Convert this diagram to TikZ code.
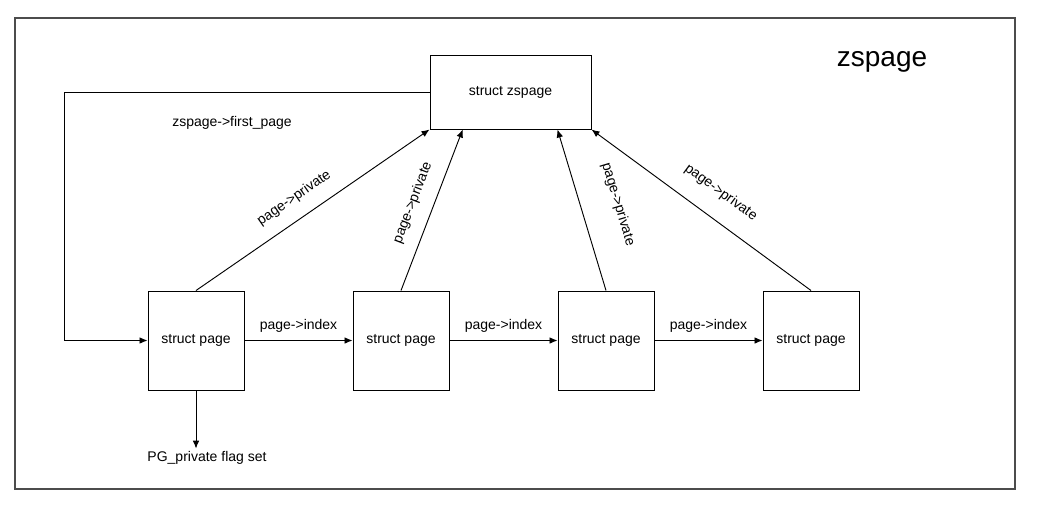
\documentclass[tikz,border=0pt]{standalone}
\usepackage{fontspec}
\setmainfont{Liberation Sans}
\usepackage{tikz}
\usetikzlibrary{arrows.meta,positioning,calc}

\begin{document}
\begin{tikzpicture}[x=0.75pt,y=-0.75pt,
    pagebox/.style={draw,line width=0.75pt,minimum width=72pt,minimum height=74.25pt,inner sep=0pt,font=\fontsize{10.5}{12}\selectfont},
    zbox/.style={pagebox,minimum width=120.75pt,minimum height=55.5pt},
    lbl/.style={font=\fontsize{10.5}{12}\selectfont,inner sep=2pt},
    arr/.style={line width=0.7pt,-{Latex[length=6pt,width=5pt]}}]
\useasboundingbox (0,0) rectangle (1063,512);
% outer frame
\draw[gray!60!black,line width=1.1pt] (15,18) rectangle (1015,489);
\node[font=\fontsize{21}{24}\selectfont] (title) at (882,62) {zspage};

% zspage and its pages
\node[zbox] (zs) at (510.5,92) {struct zspage};
\node[pagebox] (p1) at (196,340.5) {struct page};
\node[pagebox,right=81pt of p1] (p2) {struct page};
\node[pagebox,right=81pt of p2] (p3) {struct page};
\node[pagebox,right=81pt of p3] (p4) {struct page};

% first page link
\coordinate (turn) at (64,340.5);
\draw[arr] (zs.west) -| (turn) -- (p1.west);
\node[lbl] (first) at (232,123) {zspage->first\_page};

% index chain
\foreach \a/\b in {p1/p2,p2/p3,p3/p4}
    \draw[arr] (\a) -- node[lbl,above=4pt] {page->index} (\b);

% private back pointers
\draw[arr] (p1.north) -- node[lbl,sloped,above=8pt,pos=0.47] {page->private} (zs.south west);
\draw[arr] (p2.north) -- node[lbl,sloped,above=8pt,pos=0.5] {page->private} ($(zs.south west)!0.205!(zs.south east)$);
\draw[arr] (p3.north) -- node[lbl,sloped,above=20pt,pos=0.47] {page->private} ($(zs.south west)!0.79!(zs.south east)$);
\draw[arr] (p4.north) -- node[lbl,sloped,above=12pt,pos=0.48] {page->private} (zs.south east);

% flag
\node[lbl] (flag) at (207,458) {PG\_private flag set};
\draw[arr] (p1.south) -- (p1.south |- flag.north);
\end{tikzpicture}
\end{document}
